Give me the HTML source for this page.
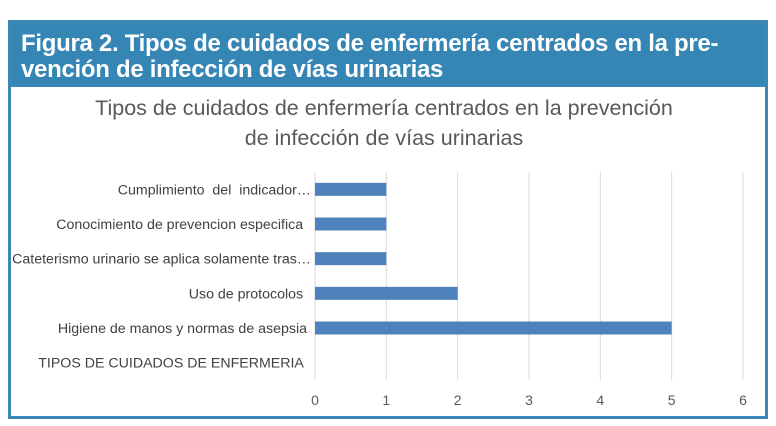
<!DOCTYPE html>
<html><head><meta charset="utf-8"><style>
body{margin:0;width:776px;height:426px;background:#fff;overflow:hidden;font-family:"Liberation Sans",sans-serif}
#frame{position:absolute;left:8px;top:20px;width:754px;height:393px;border:3px solid #3a87b8;background:#fff}
#hdr{position:absolute;left:0;top:0;width:754px;height:64px;background:#3585b5;color:#fff;font-weight:bold;font-size:24px;line-height:26px;padding:8px 0 0 10px;box-sizing:border-box;letter-spacing:-0.3px;white-space:nowrap}
#labels text{white-space:pre}
</style></head><body>
<div id="frame">
<div id="hdr">Figura 2. Tipos de cuidados de enfermería centrados en la pre-<br>vención de infección de vías urinarias</div>
</div>
<svg id="chart" width="776" height="426" style="position:absolute;left:0;top:0">
<text x="384" y="115" text-anchor="middle" font-size="21.5" fill="#595959">Tipos de cuidados de enfermería centrados en la prevención</text>
<text x="384" y="145" text-anchor="middle" font-size="21.5" fill="#595959">de infección de vías urinarias</text>
<g id="grid"></g><g id="bars"></g><g id="labels"></g><g id="ticks"></g>
</svg>
<script>
const categories=["Cumplimiento  del  indicador…","Conocimiento de prevencion especifica  ","Cateterismo urinario se aplica solamente tras…","Uso de protocolos  ","Higiene de manos y normas de asepsia ","TIPOS DE CUIDADOS DE ENFERMERIA  "];
const values=[1,1,1,2,5,0];
const tickLabels=["0","1","2","3","4","5","6"];
const NS="http://www.w3.org/2000/svg";
const x0=315,x1=743,xMax=6,yTop=172,yBot=380;
const xs=v=>x0+(x1-x0)*v/xMax;
const band=(yBot-yTop)/categories.length;
const yc=i=>yTop+band*(i+0.5);
function mk(t,a,p){const e=document.createElementNS(NS,t);for(const k in a)e.setAttribute(k,a[k]);p.appendChild(e);return e;}
const G=document.getElementById('grid'),B=document.getElementById('bars'),L=document.getElementById('labels'),T=document.getElementById('ticks');
tickLabels.forEach((t,i)=>{
 const v=+t;
 const l=mk('line',{x1:xs(v),x2:xs(v),y1:yTop,y2:yBot,stroke:'#d9d9d9','stroke-width':1},G);
 
 
 const tx=mk('text',{x:xs(v),y:405,'text-anchor':'middle','font-size':14,fill:'#595959'},T);
 tx.textContent=t;
 
 
});
categories.forEach((c,i)=>{
 const tx=mk('text',{x:311,y:yc(i)+5,'text-anchor':'end','font-size':14.2,fill:'#404040'},L);
 tx.textContent=c;
 
 
 if(values[i]>0){
  const r=mk('rect',{x:xs(0),y:yc(i)-6.5,width:xs(values[i])-xs(0),height:13,fill:'#4f81bd'},B);
  
  
 }
});
</script>
</body></html>
